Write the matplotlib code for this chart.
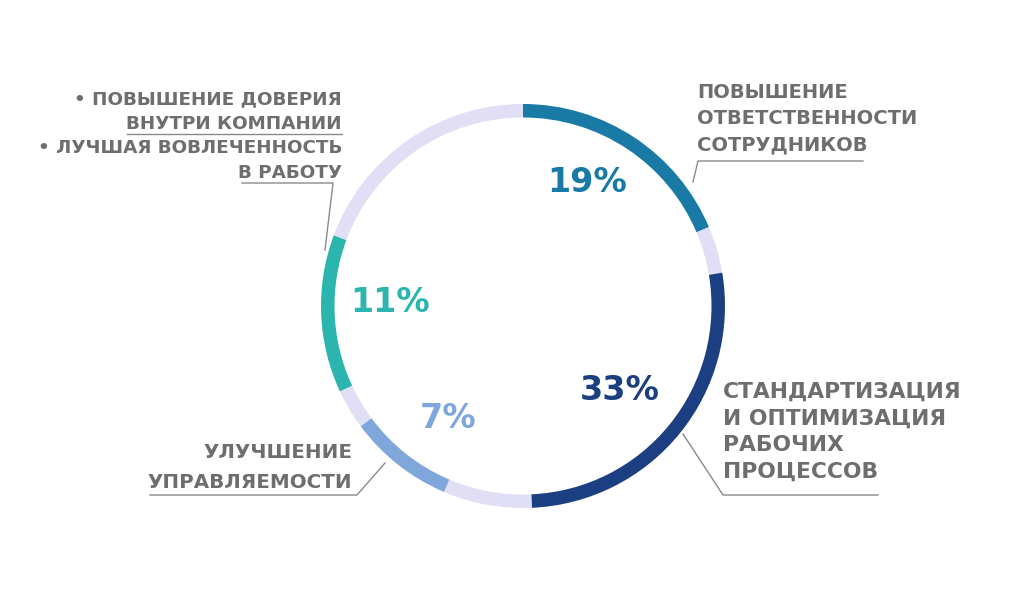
import matplotlib
matplotlib.use("Agg")
import matplotlib.pyplot as plt

# arc spans of the ring, clockwise from 12 o'clock, in degrees
spans = [67, 13.5, 97, 25.5, 30.5, 11.5, 45.5, 69.5]
ring_colors = ["#1a7aa6", "#e1dff5", "#1b3f80", "#e1dff5",
               "#80a7dc", "#e1dff5", "#2cb4ae", "#e1dff5"]

pct_labels = ["19%", "33%", "7%", "11%"]
pct_colors = ["#1a7aa6", "#1b3f80", "#80a7dc", "#2cb4ae"]
pct_pos = [(587, 183), (620, 390), (448, 418), (390, 303)]

GRAY = "#6e6e6e"
LINE = "#8a8a8a"
H = 614

plt.rcParams['font.family'] = ['DejaVu Sans']

fig = plt.figure(figsize=(10.24, 6.14), dpi=100)
ax = fig.add_axes([0, 0, 1, 1])

ax.pie(spans, colors=ring_colors, startangle=90, counterclock=False,
       radius=202, center=(523, H - 306),
       wedgeprops=dict(width=13.5, linewidth=0))
ax.set_xlim(0, 1024)
ax.set_ylim(0, H)
ax.set_aspect('equal')
ax.axis('off')

def y(p):
    return H - p

# percentages
for lab, col, (px, py) in zip(pct_labels, pct_colors, pct_pos):
    ax.text(px, y(py), lab, color=col, fontsize=24, fontweight='heavy',
            ha='center', va='center')

kw = dict(color=GRAY, fontweight='heavy')

# top right
for i, s in enumerate(["ПОВЫШЕНИЕ", "ОТВЕТСТВЕННОСТИ", "СОТРУДНИКОВ"]):
    ax.text(697, y(93 + i * 26), s, ha='left', va='center', fontsize=14, **kw)
ax.plot([693, 698, 863], [y(182), y(161), y(161)], color=LINE, lw=1)

# bottom right
for i, s in enumerate(["СТАНДАРТИЗАЦИЯ", "И ОПТИМИЗАЦИЯ", "РАБОЧИХ", "ПРОЦЕССОВ"]):
    ax.text(723, y(392 + i * 26.7), s, ha='left', va='center', fontsize=15.7, **kw)
ax.plot([683, 723, 878], [y(434), y(495), y(495)], color=LINE, lw=1)

# bottom left
for i, s in enumerate(["УЛУЧШЕНИЕ", "УПРАВЛЯЕМОСТИ"]):
    ax.text(352, y(453 + i * 29), s, ha='right', va='center', fontsize=14.3, **kw)
ax.plot([150, 357, 385], [y(495), y(495), y(463)], color=LINE, lw=1)

# top left
for i, s in enumerate(["• ПОВЫШЕНИЕ ДОВЕРИЯ", "ВНУТРИ КОМПАНИИ",
                       "• ЛУЧШАЯ ВОВЛЕЧЕННОСТЬ", "В РАБОТУ"]):
    ax.text(342, y(99 + i * 24.7), s, ha='right', va='center', fontsize=13.2, **kw)
ax.plot([127, 342], [y(134), y(134)], color=LINE, lw=1)
ax.plot([242, 333, 325], [y(183), y(183), y(250)], color=LINE, lw=1)

fig.savefig("out.png", dpi=100, facecolor="white")
